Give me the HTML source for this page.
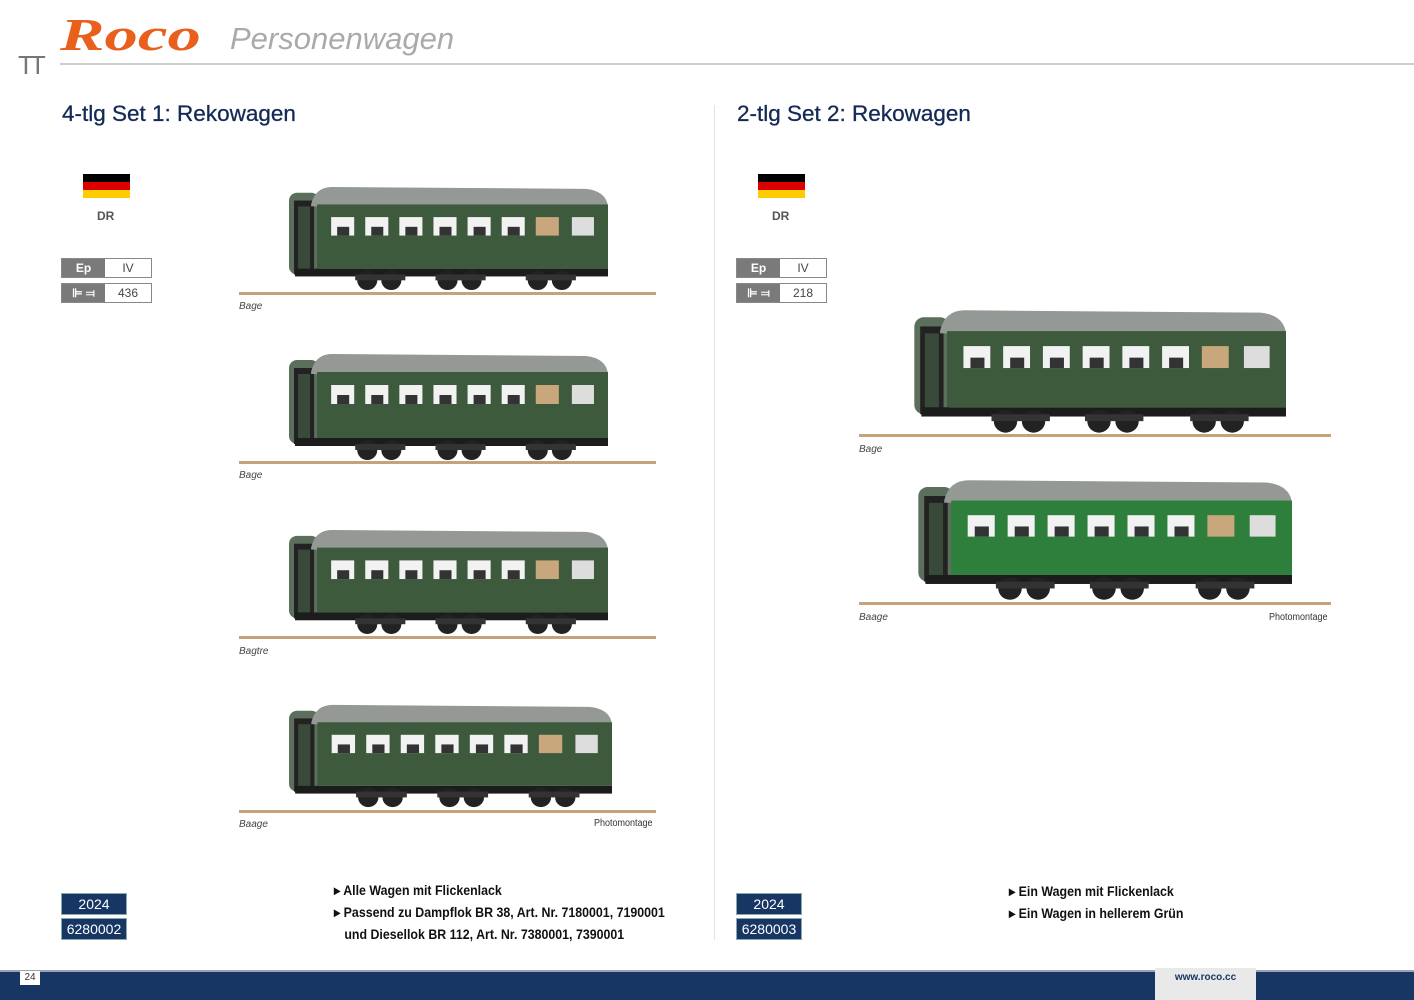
<!DOCTYPE html>
<html><head><meta charset="utf-8">
<style>
*{margin:0;padding:0;box-sizing:border-box}
body{width:1414px;height:1000px;background:#fff;position:relative;overflow:hidden;font-family:"Liberation Sans",sans-serif}
.a{position:absolute}
.h2{font-size:22.5px;color:#142a55;white-space:nowrap;-webkit-text-stroke:0.3px #142a55}
.cap{font-size:10px;font-style:italic;color:#444}
.pm{font-size:10px;color:#333;transform:scaleX(0.9);transform-origin:left}
.dr{font-size:12px;font-weight:bold;color:#555}
.tb{border:1px solid #888;height:20px;width:91px;display:flex;font-size:12px}
.tb .l{width:43px;background:#7a7a7a;color:#fff;font-weight:bold;text-align:center;line-height:18px}
.tb .r{flex:1;text-align:center;line-height:18px;color:#444}
.nb{background:#173663;color:#fff;font-size:14px;text-align:center;border:1px solid #8aa}
.bl{font-size:14px;font-weight:bold;color:#111;white-space:nowrap;line-height:22px;transform:scaleX(0.885);transform-origin:left}
.rail{position:absolute;height:3px;background:#c4a27a}
.flag{position:absolute;width:47px;height:24px;background:linear-gradient(#000 0 33%,#d00 33% 66%,#fc0 66%)}
</style></head><body>
<svg width="0" height="0" style="position:absolute">
<defs>
<symbol id="car" viewBox="0 0 320 110" preserveAspectRatio="none">
<rect x="2" y="8" width="30" height="84" rx="8" fill="#5c6e5c"/>
<rect x="7" y="16" width="20" height="76" fill="#222"/>
<rect x="11" y="22" width="12" height="66" fill="#3a4a3a"/>
<path d="M24 20 Q28 2 45 2 L298 4 Q318 6 320 22 L24 22Z" fill="#949995"/>
<rect x="30" y="20" width="290" height="66" fill="currentColor"/>
<g fill="#f2f2f2">
<rect x="44" y="33" width="23" height="19"/><rect x="78" y="33" width="23" height="19"/>
<rect x="112" y="33" width="23" height="19"/><rect x="146" y="33" width="23" height="19"/>
<rect x="180" y="33" width="23" height="19"/><rect x="214" y="33" width="23" height="19"/>
<rect x="248" y="33" width="23" height="19" fill="#c9a77c"/><rect x="284" y="33" width="22" height="19" fill="#ddd"/>
</g>
<g fill="#333"><rect x="50" y="43" width="12" height="9"/><rect x="84" y="43" width="12" height="9"/><rect x="118" y="43" width="12" height="9"/><rect x="152" y="43" width="12" height="9"/><rect x="186" y="43" width="12" height="9"/><rect x="220" y="43" width="12" height="9"/></g>
<rect x="8" y="86" width="312" height="8" fill="#1c1c1c"/>
<g fill="#222"><circle cx="80" cy="98" r="10"/><circle cx="104" cy="98" r="10"/><circle cx="160" cy="98" r="10"/><circle cx="184" cy="98" r="10"/><circle cx="250" cy="98" r="10"/><circle cx="274" cy="98" r="10"/></g>
<rect x="68" y="92" width="50" height="6" fill="#333"/><rect x="148" y="92" width="50" height="6" fill="#333"/><rect x="238" y="92" width="50" height="6" fill="#333"/>
</symbol>
</defs></svg>

<div class="a" style="left:18px;top:50px;font-size:26px;color:#777;letter-spacing:-4px">TT</div>
<div class="a" style="left:60px;top:8px;font-family:'Liberation Serif',serif;font-style:italic;font-weight:bold;font-size:46px;color:#e8601c;transform:scaleX(1.45);transform-origin:left">Roco</div>
<div class="a" style="left:230px;top:21px;font-size:31px;font-style:italic;color:#aaa">Personenwagen</div>
<div class="a" style="left:60px;top:63px;width:1354px;height:2px;background:#cfcfcf"></div>
<div class="a" style="left:714px;top:105px;width:1px;height:835px;background:#e2e2e2"></div>

<div class="a h2" style="left:62px;top:101px">4-tlg Set 1: Rekowagen</div>
<div class="a h2" style="left:737px;top:101px">2-tlg Set 2: Rekowagen</div>

<div class="flag" style="left:83px;top:174px"></div>
<div class="a dr" style="left:97px;top:209px">DR</div>
<div class="a tb" style="left:61px;top:258px"><div class="l">Ep</div><div class="r">IV</div></div>
<div class="a tb" style="left:61px;top:283px"><div class="l">⊫ ⫤</div><div class="r">436</div></div>

<div class="flag" style="left:758px;top:174px"></div>
<div class="a dr" style="left:772px;top:209px">DR</div>
<div class="a tb" style="left:736px;top:258px"><div class="l">Ep</div><div class="r">IV</div></div>
<div class="a tb" style="left:736px;top:283px"><div class="l">⊫ ⫤</div><div class="r">218</div></div>

<svg class="a" style="left:287px;top:185px;color:#3d5a3c" width="321" height="107"><use href="#car" width="321" height="107"/></svg>
<div class="rail" style="left:239px;top:292px;width:417px"></div>
<div class="a cap" style="left:239px;top:301px">Bage</div>

<svg class="a" style="left:287px;top:352px;color:#3d5a3c" width="321" height="110"><use href="#car" width="321" height="110"/></svg>
<div class="rail" style="left:239px;top:461px;width:417px"></div>
<div class="a cap" style="left:239px;top:470px">Bage</div>

<svg class="a" style="left:287px;top:528px;color:#3d5a3c" width="321" height="108"><use href="#car" width="321" height="108"/></svg>
<div class="rail" style="left:239px;top:636px;width:417px"></div>
<div class="a cap" style="left:239px;top:646px">Bagtre</div>

<svg class="a" style="left:287px;top:703px;color:#3d5a3c" width="325" height="106"><use href="#car" width="325" height="106"/></svg>
<div class="rail" style="left:239px;top:810px;width:417px"></div>
<div class="a cap" style="left:239px;top:819px">Baage</div>
<div class="a pm" style="left:594px;top:818px">Photomontage</div>

<svg class="a" style="left:912px;top:308px;color:#3d5a3c" width="374" height="127"><use href="#car" width="374" height="127"/></svg>
<div class="rail" style="left:859px;top:434px;width:472px"></div>
<div class="a cap" style="left:859px;top:444px">Bage</div>

<svg class="a" style="left:916px;top:478px;color:#2f7f3c" width="376" height="124"><use href="#car" width="376" height="124"/></svg>
<div class="rail" style="left:859px;top:602px;width:472px"></div>
<div class="a cap" style="left:859px;top:612px">Baage</div>
<div class="a pm" style="left:1269px;top:612px">Photomontage</div>

<div class="a nb" style="left:61px;top:893px;width:66px;height:22px;line-height:20px">2024</div>
<div class="a nb" style="left:61px;top:918px;width:66px;height:22px;line-height:20px">6280002</div>
<div class="a nb" style="left:736px;top:893px;width:66px;height:22px;line-height:20px">2024</div>
<div class="a nb" style="left:736px;top:918px;width:66px;height:22px;line-height:20px">6280003</div>

<div class="a bl" style="left:334px;top:879px">▸ Alle Wagen mit Flickenlack<br>▸ Passend zu Dampflok BR 38, Art. Nr. 7180001, 7190001<br>&nbsp;&nbsp;&nbsp;und Diesellok BR 112, Art. Nr. 7380001, 7390001</div>
<div class="a bl" style="left:1009px;top:880px">▸ Ein Wagen mit Flickenlack<br>▸ Ein Wagen in hellerem Grün</div>

<div class="a" style="left:0;top:970px;width:1414px;height:2px;background:#9aa3b5"></div>
<div class="a" style="left:0;top:972px;width:1414px;height:28px;background:#173663"></div>
<div class="a" style="left:20px;top:971px;width:20px;height:14px;background:#fff;font-size:10px;text-align:center;line-height:14px;color:#333">24</div>
<div class="a" style="left:1155px;top:968px;width:101px;height:32px;background:#e9e9e9;font-size:10px;font-weight:bold;color:#173663;text-align:center;line-height:20px">www.roco.cc</div>
</body></html>
